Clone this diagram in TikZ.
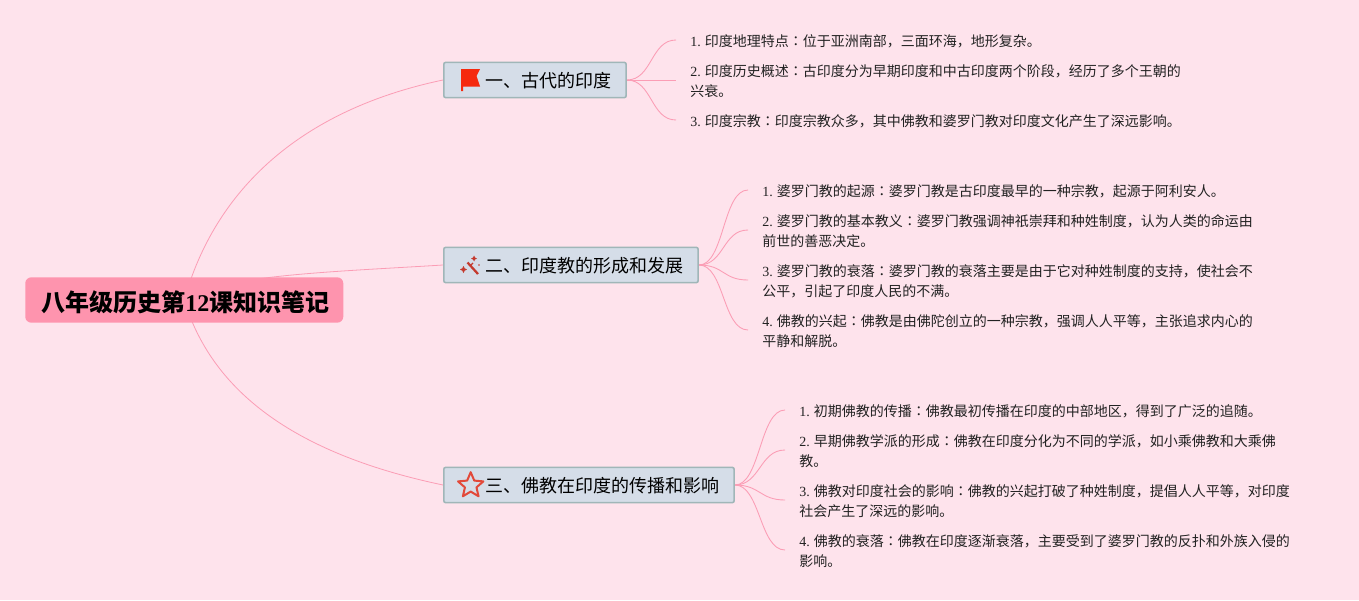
\documentclass[tikz,border=0pt]{standalone}
\usepackage{fontspec}
\setmainfont{Noto Sans CJK SC}
\newfontfamily\lat{Liberation Serif}
\newfontfamily\tcf{Noto Sans CJK TC}
\usetikzlibrary{backgrounds,shapes.geometric}
\definecolor{pagebg}{HTML}{FEE3EC}
\definecolor{rootfill}{HTML}{FE94AE}
\definecolor{boxfill}{HTML}{D5DDE8}
\definecolor{boxline}{HTML}{A0B6B8}
\definecolor{linkc}{HTML}{FB9DB5}
\definecolor{iconred}{HTML}{F5290E}
\definecolor{wandred}{HTML}{C43A2E}
\definecolor{starred}{HTML}{E2493A}
\definecolor{txt}{HTML}{222222}
\tikzset{
  x=0.75pt,y=-0.75pt,
  rootbox/.style={fill=rootfill,rounded corners=4.5pt,anchor=west,minimum width=238.5pt,minimum height=34pt,inner sep=0pt,text=black,font=\fontsize{18}{22}\selectfont\bfseries},
  branchbox/.style={draw=boxline,line width=1.2pt,fill=boxfill,rounded corners=1.5pt,anchor=west,minimum height=26.5pt,inner ysep=0pt,inner xsep=10.75pt,text=black,font=\fontsize{13.5}{17}\selectfont},
  leaftext/.style={anchor=west,align=left,inner xsep=10.5pt,inner ysep=0pt,text=txt,font=\fontsize{10.5}{15}\selectfont,execute at end node={\rule[-6.5pt]{0pt}{6.5pt}}},
  link/.style={draw=linkc,line width=0.6pt},
  sublink/.style={link,line width=0.65pt},
}
\newcommand{\lnum}[1]{\rule{0pt}{16pt}{\lat #1} }
\newcommand{\cc}{{\tcf ：}}
\newcommand{\gap}{\rule[-6.8pt]{0pt}{25.3pt}\hspace*{20.75pt}}
\begin{document}
\begin{tikzpicture}
\lineskiplimit=-20pt
\useasboundingbox (0,0) rectangle (1359,600);
% Root and branches
\node[rootbox] (root) at (25,300) {\rule[-7.3pt]{0pt}{31.3pt}\hspace*{1.5pt}八年级历史第{\lat 12}课知识笔记};
\node[branchbox] (b1) at (443,80) {\gap 一、古代的印度};
\node[branchbox] (b2) at (443,265) {\gap 二、印度教的形成和发展};
\node[branchbox] (b3) at (443,485) {\gap 三、佛教在印度的传播和影响};
% Icons
\fill[iconred] (461,69) -- (480,69) -- (476.5,76) -- (480,86.5) -- (463,86.5) -- (463,91) -- (461,91) -- cycle;
\draw[wandred,line width=1.7pt] (467.5,262.5) -- (478,274);
\draw[wandred,line width=0.9pt] (470,266) -- (473,263);
\fill[wandred] (474,255.5) -- (475,257.5) -- (477,258.5) -- (475,259.5) -- (474,261.5) -- (473,259.5) -- (471,258.5) -- (473,257.5) -- cycle;
\fill[wandred] (463.5,266) -- (464.7,268.3) -- (467,269.5) -- (464.7,270.7) -- (463.5,273) -- (462.3,270.7) -- (460,269.5) -- (462.3,268.3) -- cycle;
\fill[wandred] (479,265) circle (0.9);
\node[star,star points=5,star point ratio=2.2,draw=starred,line width=1.5pt,line join=round,fill=boxfill,minimum size=20pt,inner sep=0pt] (staricon) at (470.7,485.5) {};
% Leaves
\node[leaftext] (a1) at (676,40) {\lnum{1.}印度地理特点\cc 位于亚洲南部，三面环海，地形复杂。};
\node[leaftext] (a2) at (676,80) {\lnum{2.}印度历史概述\cc 古印度分为早期印度和中古印度两个阶段，经历了多个王朝的\\兴衰。};
\node[leaftext] (a3) at (676,120) {\lnum{3.}印度宗教\cc 印度宗教众多，其中佛教和婆罗门教对印度文化产生了深远影响。};
\node[leaftext] (c1) at (748,190) {\lnum{1.}婆罗门教的起源\cc 婆罗门教是古印度最早的一种宗教，起源于阿利安人。};
\node[leaftext] (c2) at (748,230) {\lnum{2.}婆罗门教的基本教义\cc 婆罗门教强调神祇崇拜和种姓制度，认为人类的命运由\\前世的善恶决定。};
\node[leaftext] (c3) at (748,280) {\lnum{3.}婆罗门教的衰落\cc 婆罗门教的衰落主要是由于它对种姓制度的支持，使社会不\\公平，引起了印度人民的不满。};
\node[leaftext] (c4) at (748,330) {\lnum{4.}佛教的兴起\cc 佛教是由佛陀创立的一种宗教，强调人人平等，主张追求内心的\\平静和解脱。};
\node[leaftext] (d1) at (785,410) {\lnum{1.}初期佛教的传播\cc 佛教最初传播在印度的中部地区，得到了广泛的追随。};
\node[leaftext] (d2) at (785,450) {\lnum{2.}早期佛教学派的形成\cc 佛教在印度分化为不同的学派，如小乘佛教和大乘佛\\教。};
\node[leaftext] (d3) at (785,500) {\lnum{3.}佛教对印度社会的影响\cc 佛教的兴起打破了种姓制度，提倡人人平等，对印度\\社会产生了深远的影响。};
\node[leaftext] (d4) at (785,550) {\lnum{4.}佛教的衰落\cc 佛教在印度逐渐衰落，主要受到了婆罗门教的反扑和外族入侵的\\影响。};
% Background and connectors
\begin{pgfonlayer}{background}
\fill[pagebg] (0,0) rectangle (1359,600);
\draw[link] (root.center) .. controls (215,190) and (300,110) .. (b1.west);
\draw[link] (root.center) .. controls (220,275) and (330,272) .. (b2.west);
\draw[link] (root.center) .. controls (213,395) and (300,455) .. (b3.west);
\foreach \s/\t in {b1/a1,b1/a2,b1/a3,b2/c1,b2/c2,b2/c3,b2/c4,b3/d1,b3/d2,b3/d3,b3/d4}{
  \draw[sublink] (\s.east) .. controls ([xshift=19pt]\s.east) and ([xshift=-19pt]\t.west) .. (\t.west);
}
\end{pgfonlayer}
\end{tikzpicture}
\end{document}
